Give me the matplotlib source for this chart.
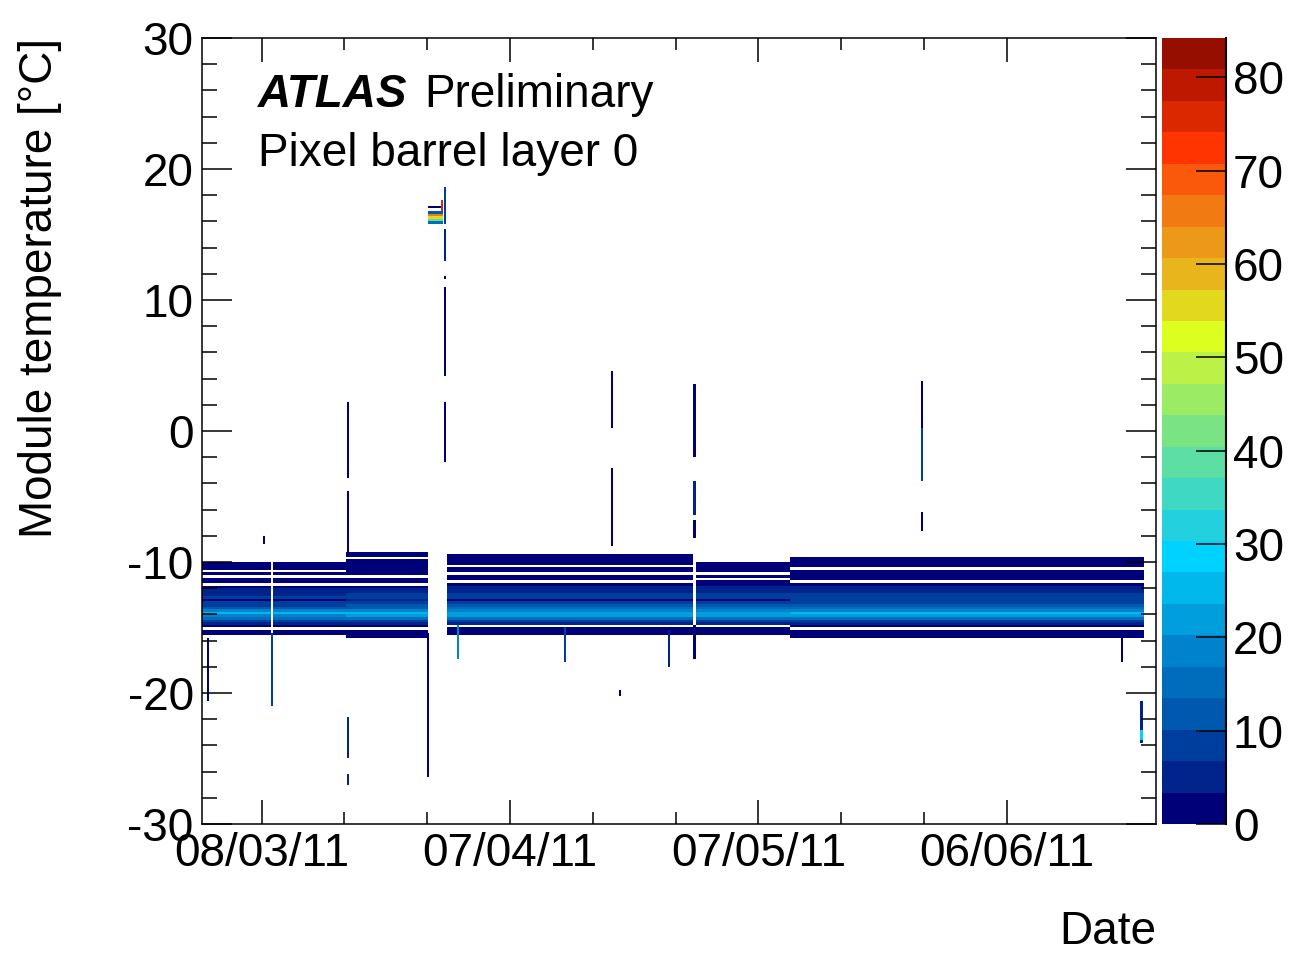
import numpy as np
import matplotlib
matplotlib.use('Agg')
import matplotlib.pyplot as plt
import matplotlib.dates as mdates
from matplotlib.colors import ListedColormap, BoundaryNorm
from matplotlib.ticker import MultipleLocator, FixedLocator
from datetime import datetime

plt.rcParams['font.family'] = ['Liberation Sans', 'DejaVu Sans']
plt.rcParams['axes.unicode_minus'] = False

# ---- data (days counted from 08/03/11) ----
ref_day = mdates.date2num(datetime(2011, 3, 8))

# temperature rows of the cooling band, -15.7 .. -8.7 degC
row_temp = np.round(np.arange(-15.7, -8.65, 0.2), 1)

prof_early = [0, 2, 2, 0, 2, 5, 9, 14, 20, 24, 17, 12, 10, 8, 3, 7, 6, 5,
              4, 2, 0, 2, 3, 0, 3, 0, 2, 3, 2, 0, 0, 0, 0, 0, 0, 0]
prof_early2 = [1, 2, 3, 0, 3, 6, 10, 15, 21, 24, 18, 13, 11, 9, 4, 8, 7, 6,
               5, 3, 0, 3, 3, 0, 3, 1, 3, 3, 2, 2, 0, 2, 1, 0, 0, 0]
prof_mid = [0, 1, 2, 2, 0, 5, 9, 14, 21, 23, 18, 14, 11, 8, 3, 8, 7, 6,
            5, 4, 2, 0, 3, 3, 0, 3, 3, 0, 2, 3, 3, 1, 0, 0, 0, 0]
prof_mid2 = [0, 1, 2, 2, 0, 5, 9, 14, 21, 23, 18, 14, 11, 8, 3, 8, 7, 6,
             5, 4, 1, 3, 0, 3, 0, 3, 3, 3, 2, 0, 0, 0, 0, 0, 0, 0]
prof_late = [1, 2, 2, 0, 3, 6, 10, 15, 22, 24, 19, 15, 12, 10, 9, 8, 7, 6,
             5, 4, 3, 0, 3, 3, 2, 3, 0, 3, 3, 2, 1, 0, 0, 0, 0, 0]
profiles = {'early': prof_early, 'early2': prof_early2, 'mid': prof_mid,
            'mid2': prof_mid2, 'late': prof_late}

# running periods: start day, end day, profile
seg_start = [-7.2, 1.4, 10.2, 22.4, 37.5, 52.35, 63.8]
seg_end = [1.15, 10.2, 20.1, 37.5, 52.1, 63.8, 106.5]
seg_prof = ['early', 'early', 'early2', 'mid', 'mid', 'mid2', 'late']

# short excursions: day, T low, T high, entries
spike_day = [-6.5, 0.3, 1.26, 10.4, 10.4, 10.4, 10.4, 20.0,
             22.2, 22.2, 22.2, 22.2, 22.2, 21.8, 23.6, 36.6,
             42.3, 42.3, 43.3, 49.1, 52.3, 52.3, 52.3, 52.3,
             79.7, 79.7, 79.7, 103.9, 106.2, 106.2]
spike_lo = [-20.6, -8.6, -20.9, -3.5, -9.5, -25.0, -26.9, -26.4,
            -2.4, 4.3, 11.6, 13.1, 15.9, 16.9, -17.3, -17.6,
            0.2, -8.7, -20.1, -17.9, -2.0, -6.3, -8.2, -17.3,
            0.1, -3.7, -7.6, -17.6, -23.7, -23.5]
spike_hi = [-16.0, -8.2, -15.6, 2.1, -4.7, -21.9, -26.4, -15.6,
            2.0, 10.9, 11.6, 15.2, 18.4, 17.5, -15.0, -15.2,
            4.5, -3.0, -19.9, -15.4, 3.5, -3.9, -7.0, -15.0,
            3.7, 0.1, -6.4, -15.6, -20.8, -22.9]
spike_n = [2, 1, 8, 3, 2, 6, 4, 1,
           2, 3, 2, 6, 10, 75, 18, 10,
           3, 2, 2, 6, 3, 5, 2, 3,
           2, 8, 2, 3, 6, 30]

# warm period around 06/04/11
warm_start, warm_end = 20.0, 21.9
warm_temp = [15.9, 16.1, 16.3, 16.5, 16.7, 16.9, 17.1]
warm_n = [16, 38, 55, 64, 12, 0, 2]

z_max = 84.2

# ---- histogram ----
x_lo, x_hi = ref_day - 7.2, ref_day + 108.0
xedges = np.linspace(x_lo, x_hi, 923)
yedges = np.linspace(-30, 30, 301)
xc = 0.5 * (xedges[1:] + xedges[:-1]) - ref_day
H = np.zeros((300, 922))


def ybin(t):
    return int(np.floor((t + 30) / 0.2 + 1e-6))


for s, e, p in zip(seg_start, seg_end, seg_prof):
    cols = (xc >= s) & (xc < e)
    for t, n in zip(row_temp, profiles[p]):
        H[ybin(t), cols] = n

cols = (xc >= warm_start) & (xc < warm_end)
for t, n in zip(warm_temp, warm_n):
    H[ybin(t), cols] = n

for d, lo, hi, n in zip(spike_day, spike_lo, spike_hi, spike_n):
    cols = (xc >= d - 0.125) & (xc < d + 0.125)
    for yi in range(ybin(lo), ybin(hi) + 1):
        H[yi, cols] = n

colors = [(0, 0, 120), (0, 35, 140), (0, 62, 158), (0, 88, 175), (0, 108, 188),
          (0, 130, 204), (0, 158, 220), (0, 184, 236), (0, 210, 255), (35, 208, 222),
          (62, 216, 195), (92, 222, 165), (122, 228, 132), (155, 235, 100), (188, 242, 72),
          (220, 255, 32), (226, 216, 30), (232, 182, 28), (236, 152, 24), (242, 122, 18),
          (250, 88, 10), (255, 52, 0), (220, 40, 0), (190, 24, 0), (150, 14, 0)]
cmap = ListedColormap([(r / 255, g / 255, b / 255) for r, g, b in colors])
norm = BoundaryNorm(np.linspace(0, z_max, 26), cmap.N)

fig = plt.figure(figsize=(12.9, 9.55), dpi=100)
ax = fig.add_axes([0.1566, 0.1372, 0.7395, 0.8230])
cax = fig.add_axes([0.9008, 0.1372, 0.0496, 0.8230])

mesh = ax.pcolormesh(xedges, yedges, np.ma.masked_equal(H, 0), cmap=cmap, norm=norm,
                     antialiased=False, linewidth=0, rasterized=True)

ax.set_xlim(x_lo, x_hi)
ax.set_ylim(-30, 30)
major_days = [0, 30, 60, 90]
ax.xaxis.set_major_locator(FixedLocator([ref_day + d for d in major_days]))
ax.xaxis.set_minor_locator(FixedLocator([ref_day + d for d in range(10, 100, 10) if d % 30]))
ax.xaxis.set_major_formatter(mdates.DateFormatter('%d/%m/%y'))
ax.yaxis.set_major_locator(MultipleLocator(10))
ax.yaxis.set_minor_locator(MultipleLocator(2))

ax.tick_params(which='both', direction='in', top=True, right=True, labelsize=33, width=1.1)
ax.tick_params(axis='x', which='major', length=17, pad=6)
ax.tick_params(axis='x', which='minor', length=8.5)
ax.tick_params(axis='y', which='major', length=21.5, pad=6)
ax.tick_params(axis='y', which='minor', length=11)
for sp in ax.spines.values():
    sp.set_linewidth(1.1)

cb = fig.colorbar(mesh, cax=cax, ticks=range(0, 81, 10))
cb.outline.set_visible(False)
cax.set_ylim(0, z_max)
cax.minorticks_off()
cax.tick_params(direction='in', length=21.5, width=1.1, labelsize=33, pad=5)
cax.plot([1, 1], [0, 1], transform=cax.transAxes, color='black', lw=1.5, clip_on=False)

fig.text(0.031, 0.9602, 'Module temperature [°C]', rotation=90, ha='center', va='top', fontsize=33)
fig.text(0.8961, 0.024, 'Date', ha='right', va='center', fontsize=33)
fig.text(0.2, 0.888, 'ATLAS', fontsize=33, fontweight='bold', fontstyle='italic')
fig.text(0.329, 0.888, 'Preliminary', fontsize=33)
fig.text(0.2, 0.826, 'Pixel barrel layer 0', fontsize=33)

fig.savefig('out.png', dpi=100)
